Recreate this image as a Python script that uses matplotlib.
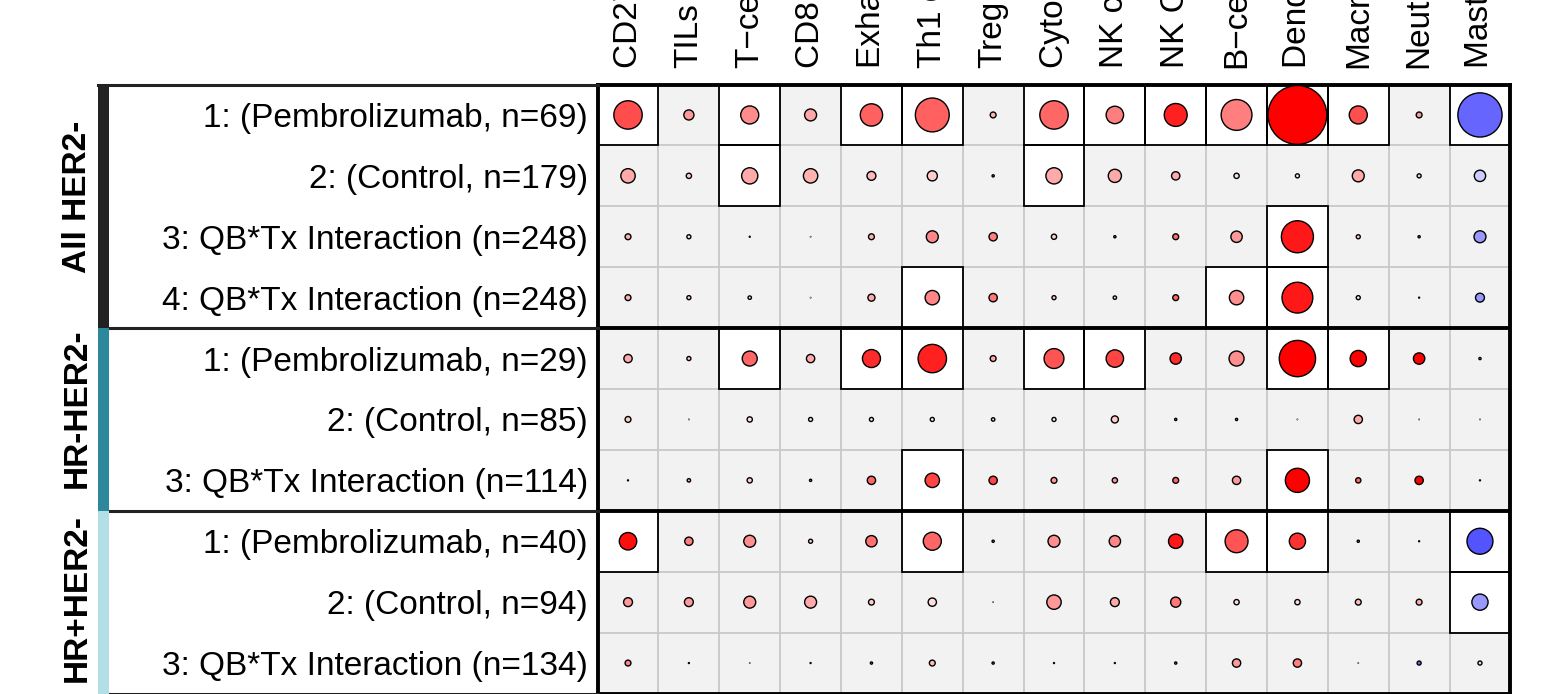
import numpy as np
import matplotlib.pyplot as plt
from matplotlib.colors import LinearSegmentedColormap, Normalize
from matplotlib.patches import Rectangle

plt.rcParams['font.family'] = ['Liberation Sans', 'DejaVu Sans']

cell_types = ["CD274 (PD−L1)", "TILs", "T−cells", "CD8 T−cells", "Exhausted CD8",
              "Th1 cells", "Treg", "Cytotoxic cells", "NK cells", "NK CD56dim cells",
              "B−cells", "Dendritic cells", "Macrophages", "Neutrophils", "Mast cells"]

row_labels = ["1: (Pembrolizumab, n=69)", "2: (Control, n=179)",
              "3: QB*Tx Interaction (n=248)", "4: QB*Tx Interaction (n=248)",
              "1: (Pembrolizumab, n=29)", "2: (Control, n=85)",
              "3: QB*Tx Interaction (n=114)",
              "1: (Pembrolizumab, n=40)", "2: (Control, n=94)",
              "3: QB*Tx Interaction (n=134)"]

groups = ["All HER2-", "HR-HER2-", "HR+HER2-"]
group_sizes = [4, 3, 3]
group_colors = ["#222222", "#2E889B", "#B2DEE7"]

# circle size (fraction of a cell)
strength = np.array([
    [0.48, 0.18, 0.31, 0.21, 0.38, 0.57, 0.11, 0.48, 0.30, 0.39, 0.52, 0.98, 0.31, 0.11, 0.74],
    [0.25, 0.10, 0.28, 0.25, 0.16, 0.18, 0.05, 0.28, 0.23, 0.15, 0.10, 0.08, 0.21, 0.08, 0.20],
    [0.11, 0.08, 0.03, 0.02, 0.11, 0.21, 0.15, 0.10, 0.05, 0.11, 0.20, 0.54, 0.08, 0.05, 0.21],
    [0.11, 0.08, 0.07, 0.02, 0.13, 0.25, 0.15, 0.08, 0.07, 0.11, 0.25, 0.52, 0.08, 0.03, 0.16],
    [0.15, 0.08, 0.26, 0.15, 0.31, 0.48, 0.11, 0.34, 0.30, 0.20, 0.26, 0.61, 0.28, 0.20, 0.05],
    [0.11, 0.02, 0.10, 0.08, 0.08, 0.08, 0.07, 0.08, 0.13, 0.05, 0.05, 0.02, 0.15, 0.015, 0.015],
    [0.03, 0.07, 0.10, 0.05, 0.15, 0.25, 0.15, 0.11, 0.10, 0.11, 0.15, 0.41, 0.10, 0.15, 0.03],
    [0.30, 0.15, 0.21, 0.08, 0.20, 0.31, 0.05, 0.21, 0.20, 0.25, 0.39, 0.28, 0.05, 0.03, 0.44],
    [0.16, 0.16, 0.21, 0.21, 0.11, 0.15, 0.02, 0.25, 0.16, 0.18, 0.10, 0.10, 0.11, 0.11, 0.28],
    [0.11, 0.03, 0.02, 0.03, 0.05, 0.11, 0.05, 0.03, 0.03, 0.05, 0.15, 0.15, 0.02, 0.08, 0.08],
])

# signed effect (-1 blue .. +1 red)
effect = np.array([
    [0.70, 0.40, 0.45, 0.35, 0.62, 0.62, 0.30, 0.60, 0.50, 0.87, 0.50, 1.00, 0.69, 0.40, -0.60],
    [0.33, 0.20, 0.33, 0.30, 0.28, 0.20, 0.50, 0.33, 0.33, 0.33, 0.13, 0.07, 0.33, 0.20, -0.20],
    [0.31, 0.13, 0.30, 0.30, 0.31, 0.47, 0.50, 0.20, 0.30, 0.56, 0.40, 0.90, 0.20, 0.30, -0.40],
    [0.31, 0.20, 0.12, 0.30, 0.33, 0.47, 0.53, 0.20, 0.12, 0.60, 0.44, 0.90, 0.13, 0.30, -0.40],
    [0.33, 0.20, 0.60, 0.33, 0.83, 0.87, 0.33, 0.67, 0.73, 0.83, 0.44, 1.00, 1.00, 1.00, 0.30],
    [0.20, 0.10, 0.12, 0.13, 0.12, 0.07, -0.13, 0.07, 0.20, 0.30, 0.30, 0.05, 0.33, 0.02, 0.02],
    [0.30, 0.33, 0.20, 0.30, 0.60, 0.73, 0.73, 0.40, 0.40, 0.60, 0.40, 1.00, 0.60, 1.00, 0.30],
    [0.94, 0.50, 0.44, 0.20, 0.56, 0.60, 0.30, 0.44, 0.47, 0.90, 0.67, 0.80, 0.13, 0.30, -0.67],
    [0.40, 0.40, 0.40, 0.33, 0.20, 0.13, 0.05, 0.40, 0.33, 0.53, 0.13, 0.13, 0.27, 0.33, -0.40],
    [0.47, 0.30, 0.20, 0.30, 0.30, 0.27, 0.30, 0.30, 0.30, 0.30, 0.40, 0.50, 0.05, -0.60, -0.13],
])

# significant cells (boxed)
signif = np.array([
    [1, 0, 1, 0, 1, 1, 0, 1, 1, 1, 1, 1, 1, 0, 1],
    [0, 0, 1, 0, 0, 0, 0, 1, 0, 0, 0, 0, 0, 0, 0],
    [0, 0, 0, 0, 0, 0, 0, 0, 0, 0, 0, 1, 0, 0, 0],
    [0, 0, 0, 0, 0, 1, 0, 0, 0, 0, 1, 1, 0, 0, 0],
    [0, 0, 1, 0, 1, 1, 0, 1, 1, 0, 0, 1, 1, 0, 0],
    [0, 0, 0, 0, 0, 0, 0, 0, 0, 0, 0, 0, 0, 0, 0],
    [0, 0, 0, 0, 0, 1, 0, 0, 0, 0, 0, 1, 0, 0, 0],
    [1, 0, 0, 0, 0, 1, 0, 0, 0, 0, 1, 1, 0, 0, 1],
    [0, 0, 0, 0, 0, 0, 0, 0, 0, 0, 0, 0, 0, 0, 1],
    [0, 0, 0, 0, 0, 0, 0, 0, 0, 0, 0, 0, 0, 0, 0],
])

W, H = 1549, 694
fig = plt.figure(figsize=(W / 100, H / 100), dpi=100)
gl, gr, gt, gb = 597.6, 1510.4, 84.5, 693.5
ax = fig.add_axes([gl / W, 1 - gb / H, (gr - gl) / W, (gb - gt) / H])

nr, nc = strength.shape
ax.set_xlim(0, nc)
ax.set_ylim(nr, 0)
ax.set_facecolor("#F2F2F2")
px = (gr - gl) / nc  # pixels per cell

for i in range(nr):
    for j in range(nc):
        if signif[i, j]:
            ax.add_patch(Rectangle((j, i), 1, 1, fc="white", ec="none", zorder=1))
ax.vlines(np.arange(1, nc), 0, nr, color="#C8C8C8", lw=1.3, zorder=1.5)
ax.hlines(np.arange(1, nr), 0, nc, color="#C8C8C8", lw=1.3, zorder=1.5)
for i in range(nr):
    for j in range(nc):
        if signif[i, j]:
            ax.add_patch(Rectangle((j, i), 1, 1, fill=False, ec="black", lw=1.3, zorder=2))

bounds = np.cumsum(group_sizes)
ax.hlines(bounds[:-1], 0, nc, color="black", lw=2.8, zorder=3)
for sp in ax.spines.values():
    sp.set_linewidth(2.8)
    sp.set_zorder(3)

cmap = LinearSegmentedColormap.from_list("bwr_", ["#0000FF", "#FFFFFF", "#FF0000"])
yy, xx = np.mgrid[0:nr, 0:nc]
cell_pt = px * 72 / fig.dpi
lw_c = 1.0
sizes = np.clip(strength * cell_pt - lw_c * 0.6, 0.3, None) ** 2
ax.scatter(xx.ravel() + 0.5, yy.ravel() + 0.5, s=sizes.ravel(), c=effect.ravel(),
           cmap=cmap, norm=Normalize(-1, 1), edgecolors="black", linewidths=lw_c,
           zorder=4, clip_on=False)

ax.set_yticks(np.arange(nr) + 0.5, row_labels, fontsize=24)
ax.tick_params(axis="y", length=0, pad=7)
ax.xaxis.tick_top()
ax.set_xticks(np.arange(nc) + 0.5, cell_types, rotation=90, fontsize=24)
ax.tick_params(axis="x", length=0, pad=12)

# group bars, frame and names on the left
bar_l = (98 - gl) / px
bar_r = (109 - gl) / px
starts = np.concatenate([[0], bounds[:-1]])
name_x = (77 - gl) / px
name_shift = [0.16, 0.19, 0.07]
for g, (s0, n) in enumerate(zip(starts, group_sizes)):
    ax.add_patch(Rectangle((bar_l, s0), bar_r - bar_l, n, fc=group_colors[g],
                           ec="none", clip_on=False, zorder=5))
    ax.text(name_x, s0 + n / 2 - name_shift[g], groups[g], rotation=90,
            ha="center", va="center", fontsize=24, fontweight="bold", clip_on=False)
ax.plot([bar_l, 0], [0, 0], color="#222222", lw=2.2, clip_on=False, zorder=4)
for b in bounds:
    ax.plot([bar_r, 0], [b, b], color="#222222", lw=2.2, clip_on=False, zorder=4)

fig.savefig("out.png", dpi=100)
